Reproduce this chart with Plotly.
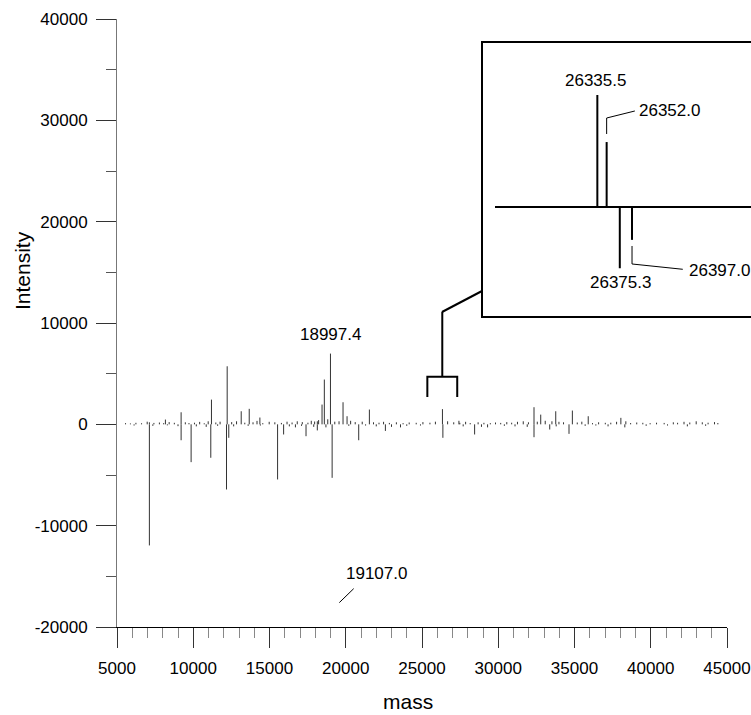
import plotly.graph_objects as go

# ---------------- data ----------------
# main spectrum, upper trace (positive sticks)
pos_mass = [7124, 8175, 9204, 11194, 12225, 13145, 13670, 14370, 18136, 18445, 18596,
            18997.4, 19822, 20086, 21550, 26340, 27420, 32345, 32785, 33770, 34860,
            35900, 38040, 38366]
pos_int = [200, 470, 1190, 2440, 5730, 1290, 1530, 670, 300, 1950, 4420,
           6980, 2180, 800, 1460, 1500, 350, 1690, 960, 1290, 1360,
           800, 640, 300]

# main spectrum, lower (mirrored) trace
neg_mass = [7124, 9204, 9860, 11150, 12180, 12330, 15530, 15925, 17395, 18136,
            19107.0, 20850, 22600, 23590, 26370, 28450, 32345, 33375, 34640]
neg_int = [-11950, -1570, -3730, -3300, -6430, -1330, -5440, -1000, -1170, -600,
           -5280, -1570, -650, -300, -1330, -1000, -1270, -510, -940]

# small baseline sticks
pos_noise_mass = [5560, 5880, 6240, 6610, 6980, 7420, 7780, 8060, 8420, 8760, 9480, 9720,
                  10080, 10420, 10720, 10980, 11480, 11760, 12520, 12840, 13380, 13920,
                  14180, 14560, 14980, 15350, 15780, 16150, 16480, 16820, 17150, 17520,
                  17740, 17960, 18220, 18820, 19280, 19560, 20320, 20620, 21080, 21820,
                  22180, 22480, 22860, 23320, 23760, 24160, 24620, 25060, 25520, 25880,
                  26680, 27080, 27480, 27860, 28160, 28680, 29060, 29480, 29820, 30160,
                  30560, 30880, 31260, 31640, 31980, 32560, 33080, 33520, 33980, 34280,
                  35180, 35480, 36180, 36580, 37020, 37380, 37760, 38680, 39080, 39480,
                  39960, 40380, 40880, 41480, 41760, 42180, 42560, 42980, 43380, 43760,
                  44180, 44400]
pos_noise_int = [120, 90, 150, 110, 260, 140, 180, 120, 220, 150, 200, 130,
                 160, 240, 110, 300, 180, 260, 220, 300, 160, 200,
                 340, 120, 250, 200, 140, 260, 180, 300, 220, 160,
                 350, 280, 420, 500, 260, 300, 350, 220, 260, 200,
                 160, 250, 140, 200, 120, 180, 150, 220, 160, 260,
                 300, 200, 150, 250, 130, 200, 150, 120, 180, 140,
                 220, 160, 250, 300, 200, 260, 350, 300, 250, 200,
                 180, 260, 120, 200, 150, 160, 250, 130, 180, 150,
                 120, 160, 140, 200, 150, 250, 180, 300, 200, 160,
                 220, 130]
neg_noise_mass = [6120, 7350, 8300, 9000, 10200, 10850, 11600, 12650, 13600, 14400,
                  16300, 16700, 17100, 17900, 18700, 20200, 21300, 22000, 23000, 24000,
                  24900, 27700, 28900, 29300, 30400, 31100, 31900, 33800, 35700, 36400,
                  37200, 38300, 39700, 41100, 42400, 43600]
neg_noise_int = [-120, -150, -100, -180, -200, -250, -150, -200, -150, -120,
                 -200, -300, -150, -250, -300, -150, -120, -200, -250, -150,
                 -120, -200, -250, -300, -150, -200, -250, -200, -150, -120,
                 -200, -300, -150, -120, -200, -150]

# inset (zoom of the 26.3 kDa region)
inset_pos_mass = [26335.5, 26352.0]
inset_pos_int = [1500, 870]
inset_neg_mass = [26375.3, 26397.0]
inset_neg_int = [-820, -440]

# axes
x_tickvals = [5000, 10000, 15000, 20000, 25000, 30000, 35000, 40000, 45000]
x_ticktext = ["5000", "10000", "15000", "20000", "25000", "30000", "35000", "40000", "45000"]
y_tickvals = [-20000, -10000, 0, 10000, 20000, 30000, 40000]
y_ticktext = ["-20000", "-10000", "0", "10000", "20000", "30000", "40000"]

FONT = "Liberation Sans, Arial, sans-serif"


def sticks(masses, ints):
    xs, ys = [], []
    for m, v in zip(masses, ints):
        xs += [m, m, None]
        ys += [0, v, None]
    return xs, ys


fig = go.Figure()

stick_color = "#333333"
for ms, vs in [(pos_noise_mass, pos_noise_int), (neg_noise_mass, neg_noise_int),
               (pos_mass, pos_int), (neg_mass, neg_int)]:
    xs, ys = sticks(ms, vs)
    fig.add_trace(go.Scatter(x=xs, y=ys, mode="lines", line=dict(color=stick_color, width=1),
                             hoverinfo="skip", showlegend=False, xaxis="x", yaxis="y"))

for ms, vs in [(inset_pos_mass, inset_pos_int), (inset_neg_mass, inset_neg_int)]:
    xs, ys = sticks(ms, vs)
    fig.add_trace(go.Scatter(x=xs, y=ys, mode="lines", line=dict(color="black", width=2),
                             hoverinfo="skip", showlegend=False, xaxis="x2", yaxis="y2"))

W, H = 751, 715
ML, MR, MT, MB = 117, 0, 19, 88
PW = W - ML - MR
PH = H - MT - MB


def px(xp):
    return (xp - ML) / PW


def py(yp):
    return (H - MB - yp) / PH


main_x_end = px(727)
inset_x0 = px(495)
box_y0, box_y1 = py(317), py(42)

fig.update_layout(
    width=W, height=H,
    margin=dict(l=ML, r=MR, t=MT, b=MB, autoexpand=False),
    paper_bgcolor="white", plot_bgcolor="rgba(0,0,0,0)",
    font=dict(family=FONT, size=17, color="black"),
    xaxis=dict(domain=[0, main_x_end], range=[5000, 45000], autorange=False,
               showgrid=False, zeroline=False, showline=True, linecolor="black", linewidth=1,
               ticks="outside", ticklen=20, tickcolor="#333", tickwidth=1,
               tickmode="array", tickvals=x_tickvals, ticktext=x_ticktext,
               ticklabelstandoff=6,
               tickfont=dict(family=FONT, size=17, color="black"),
               minor=dict(tickmode="linear", tick0=5000, dtick=1000, ticks="outside",
                          ticklen=10, tickcolor="#888", tickwidth=1, showgrid=False),
               anchor="y"),
    yaxis=dict(domain=[0, 1], range=[-20000, 40000], autorange=False,
               showgrid=False, zeroline=False, showline=True, linecolor="#777", linewidth=1,
               ticks="outside", ticklen=20, tickcolor="#333", tickwidth=1,
               tickmode="array", tickvals=y_tickvals, ticktext=y_ticktext,
               ticklabelstandoff=5,
               tickfont=dict(family=FONT, size=17, color="black"),
               minor=dict(tickmode="linear", tick0=0, dtick=5000, ticks="outside",
                          ticklen=10, tickcolor="#555", tickwidth=1, showgrid=False),
               anchor="x"),
    xaxis2=dict(domain=[inset_x0, 1], range=[26154, 26608], autorange=False,
                visible=False, anchor="y2"),
    yaxis2=dict(domain=[box_y0, box_y1], range=[-1473, 2210], autorange=False,
                visible=False, anchor="x2"),
)

shapes = []
# inset frame
shapes.append(dict(type="rect", xref="paper", yref="paper", x0=px(482), x1=1.05,
                   y0=box_y0, y1=box_y1, line=dict(color="black", width=2),
                   fillcolor="white", layer="below"))
# inset baseline
shapes.append(dict(type="line", xref="x2", yref="y2", x0=26154, x1=26608, y0=0, y1=0,
                   line=dict(color="black", width=2)))
# inset leaders
m2, m4 = inset_pos_mass[1], inset_neg_mass[1]
shapes.append(dict(type="path", xref="x2", yref="y2",
                   path=f"M {m2},978 L {m2},1192 L 26402,1286",
                   line=dict(color="black", width=1)))
shapes.append(dict(type="path", xref="x2", yref="y2",
                   path=f"M {m4},-522 L {m4},-763 L 26487,-834",
                   line=dict(color="black", width=1)))
# bracket marking the zoomed region on the main plot
bx0, bx1, bc = 25350, 27310, 26330
shapes.append(dict(type="path", xref="x", yref="y",
                   path=f"M {bx0},2700 L {bx0},4700 L {bx1},4700 L {bx1},2700",
                   line=dict(color="black", width=2)))
shapes.append(dict(type="line", xref="x", yref="y", x0=bc, x1=bc, y0=4700, y1=11100,
                   line=dict(color="black", width=2)))
shapes.append(dict(type="line", xref="paper", yref="paper",
                   x0=px(442), y0=py(312), x1=px(482), y1=py(291),
                   line=dict(color="black", width=2)))
# leader for 19107.0 label
shapes.append(dict(type="line", xref="x", yref="y", x0=19577, y0=-17595, x1=20521, y1=-16215,
                   line=dict(color="black", width=1)))
fig.update_layout(shapes=shapes)

ann = []
ann.append(dict(x=18997.4, y=6980, xref="x", yref="y", text="18997.4", showarrow=False,
                yanchor="bottom", xanchor="center", yshift=8))
ann.append(dict(x=21984, y=-14700, xref="x", yref="y", text="19107.0", showarrow=False,
                yanchor="middle", xanchor="center"))
ann.append(dict(x=26332, y=inset_pos_int[0], xref="x2", yref="y2", text="26335.5",
                showarrow=False, yanchor="bottom", xanchor="center", yshift=3))
ann.append(dict(x=26405.7, y=1299, xref="x2", yref="y2", text="26352.0",
                showarrow=False, yanchor="middle", xanchor="left"))
ann.append(dict(x=26377, y=inset_neg_int[0], xref="x2", yref="y2", text="26375.3",
                showarrow=False, yanchor="top", xanchor="center", yshift=-3))
ann.append(dict(x=26494, y=-844, xref="x2", yref="y2", text="26397.0",
                showarrow=False, yanchor="middle", xanchor="left"))
# axis titles
ann.append(dict(x=px(22), y=py(270), xref="paper", yref="paper", text="Intensity",
                showarrow=False, textangle=-90, font=dict(size=21),
                xanchor="center", yanchor="middle"))
ann.append(dict(x=px(408), y=py(701), xref="paper", yref="paper", text="mass",
                showarrow=False, font=dict(size=21), xanchor="center", yanchor="middle"))
fig.update_layout(annotations=ann)

fig.write_html("out.html")
